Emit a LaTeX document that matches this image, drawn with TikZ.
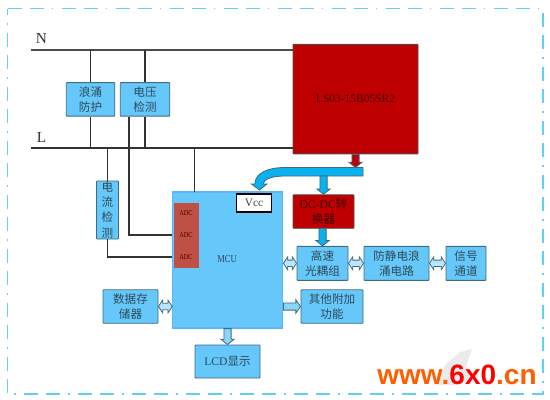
\documentclass[tikz,border=0pt]{standalone}
\usepackage{fontspec}
\setmainfont{Liberation Serif}
\newfontfamily\cjk{Noto Sans CJK SC}
\newfontfamily\wm{Liberation Sans}
\usetikzlibrary{calc}
\definecolor{boxblue}{HTML}{66C8FA}
\definecolor{paleblue}{HTML}{8AD6FA}
\definecolor{boxedge}{HTML}{3E6C80}
\definecolor{arrowblue}{HTML}{0AB0F0}
\definecolor{darkred}{HTML}{BE0000}
\definecolor{adcred}{HTML}{BE5044}
\definecolor{framec}{HTML}{62CFF6}
\definecolor{txt}{HTML}{2C4A5A}
\tikzset{
  x=0.75pt,y=-0.75pt,
  cell/.style={draw=boxedge,line width=0.7pt,fill=boxblue,rounded corners=0.5pt,inner sep=0pt,text=txt,align=center,font=\fontsize{8.7}{11.3}\selectfont\cjk},
  redcell/.style={cell,fill=darkred,draw=black!70,text=black!65!darkred},
  wire/.style={draw=black!80,line width=0.9pt},
  busline/.style={draw=black!70,line width=1.5pt},
  blockarrow/.style={draw=boxedge,line width=0.6pt,line join=miter},
  adctext/.style={font=\fontsize{5.6}{7}\selectfont,text=black!70!red,inner sep=0pt,xscale=0.85},
}
\newcommand{\cellat}[6]{\node[#1,minimum width=#4*0.75pt,minimum height=#5*0.75pt] (#2) at (#3) {#6};}
% arrow pointing down from #1 to #2
\newcommand{\arrowdn}[3]{\draw[blockarrow,fill=#3] let \p1=(#1),\p2=(#2) in
  (\x1-2.7pt,\y1) -- (\x1-2.7pt,\y2+4pt) -- (\x1-5pt,\y2+4pt) -- (\x1,\y2) -- (\x1+5pt,\y2+4pt) -- (\x1+2.7pt,\y2+4pt) -- (\x1+2.7pt,\y1) -- cycle;}
% arrow pointing right from #1 to #2
\newcommand{\arrowrt}[3]{\draw[blockarrow,fill=#3] let \p1=(#1),\p2=(#2) in
  (\x1,\y1-2.7pt) -- (\x2-3.5pt,\y1-2.7pt) -- (\x2-3.5pt,\y1-5pt) -- (\x2,\y1) -- (\x2-3.5pt,\y1+5pt) -- (\x2-3.5pt,\y1+2.7pt) -- (\x1,\y1+2.7pt) -- cycle;}
% two-headed horizontal arrow
\newcommand{\arrowtw}[2]{\draw[blockarrow,fill=paleblue!60!white] let \p1=(#1),\p2=(#2) in
  (\x1,\y1) -- (\x1+3.2pt,\y1-4.8pt) -- (\x1+3.2pt,\y1-2.4pt) -- (\x2-3.2pt,\y1-2.4pt) -- (\x2-3.2pt,\y1-4.8pt) -- (\x2,\y1)
  -- (\x2-3.2pt,\y1+4.8pt) -- (\x2-3.2pt,\y1+2.4pt) -- (\x1+3.2pt,\y1+2.4pt) -- (\x1+3.2pt,\y1+4.8pt) -- cycle;}
\begin{document}
\begin{tikzpicture}
\useasboundingbox (0,0) rectangle (550,400);
% frame
\draw[framec,line width=1.3pt,dash pattern=on 10.5pt off 6pt on 10.5pt off 6pt on 1.2pt off 6.3pt]
  (7.5,8.5) -- (543,8.5) -- (543,394) -- (7.5,394) -- cycle;
% mains
\node[font=\fontsize{11.5}{12}\selectfont,inner sep=0pt,text=black!80] (N) at (41.5,38) {N};
\node[font=\fontsize{11.5}{12}\selectfont,inner sep=0pt,text=black!80] (L) at (41.5,137) {L};
\coordinate (Nstart) at (31,50);
\coordinate (Lstart) at (31,148);
\node[redcell,minimum width=125*0.75pt,minimum height=109.5*0.75pt,font=\fontsize{8.6}{11}\selectfont] (ls) at (355.5,99.2) {LS03-15B05SR2};
\draw[busline] (Nstart) -- (ls.west |- Nstart);
\draw[wire,line width=1.1pt] (Lstart) -- (ls.west |- Lstart);
% boxes
\cellat{cell}{surge}{90.5,99.3}{48.5}{33.5}{浪涌\\防护}
\cellat{cell}{volt}{145,99.3}{49.5}{33.5}{电压\\检测}
\cellat{cell}{cur}{107.5,210}{22}{58}{电\\流\\检\\测}
\node[draw=boxblue!90!blue,line width=0.9pt,fill=boxblue,minimum width=110*0.75pt,minimum height=136*0.75pt,inner sep=0pt] (mcu) at (227.8,260) {};
\node[font=\fontsize{8}{10}\selectfont,text=txt,inner sep=0pt,xscale=0.8] (mcutext) at (227,259.5) {MCU};
\node[fill=adcred,minimum width=25.5*0.75pt,minimum height=65*0.75pt,inner sep=0pt] (adc) at (186.3,235.5) {};
\node[adctext] (a1) at (186,213) {ADC};
\node[adctext] (a2) at (186,235) {ADC};
\node[adctext] (a3) at (186,257) {ADC};
\node[draw=black,line width=0.8pt,fill=white,minimum width=35*0.75pt,minimum height=18*0.75pt,inner sep=0pt,font=\fontsize{8.5}{10}\selectfont,text=black!75] (vcc) at (254,203) {Vcc};
\cellat{redcell}{dc}{323.5,211.5}{61}{33.5}{{\rmfamily DC-DC}转\\换器}
\cellat{cell}{opto}{322.5,263.3}{51}{34}{高速\\光耦组}
\cellat{cell}{esd}{396.5,263.3}{65}{34}{防静电浪\\涌电路}
\cellat{cell}{sig}{466,263.3}{40}{34}{信号\\通道}
\cellat{cell}{other}{332,306.5}{62}{33.5}{其他附加\\功能}
\cellat{cell}{mem}{130.5,306.5}{55}{33.5}{数据存\\储器}
\cellat{cell}{lcd}{227.5,361.5}{65}{33}{{\rmfamily LCD}显示}
% wires
\draw[wire] (surge.north) -- (surge.north |- Nstart);
\draw[wire] (surge.south) -- (surge.south |- Lstart);
\draw[wire] (volt.north) -- (volt.north |- Nstart);
\draw[wire] (volt.south) -- (volt.south |- Lstart);
\draw[wire] (cur.north) -- (cur.north |- Lstart);
\draw[wire] (cur.south) |- (mcu.west |- a3);
\coordinate (vdrop) at (129,116);
\draw[wire] (volt.south -| vdrop) |- (mcu.west |- a2);
\coordinate (mcutop) at (194.5,192);
\draw[wire] (mcutop) -- (mcutop |- Lstart);
% power
\coordinate (bus323) at (323.5,176);
\coordinate (busRtop) at (355.5,167.5);
\draw[blockarrow,fill=arrowblue] (363,167.5) -- (285,167.5) .. controls (268,167.5) and (255,173) .. (255,184)
  -- (251.5,184) -- (259.5,190) -- (267,184) -- (263,184) .. controls (264,179) and (272,176) .. (285,176) -- (363,176) -- cycle;
\arrowdn{ls.south -| busRtop}{busRtop}{darkred}
\arrowdn{bus323}{dc.north}{arrowblue}
\arrowdn{dc.south -| opto.north}{opto.north}{arrowblue}
\arrowdn{mcu.south -| lcd.north}{lcd.north}{paleblue}
\arrowrt{mcu.east |- other}{other.west}{paleblue}
\arrowtw{mcu.east |- opto}{opto.west}
\arrowtw{opto.east}{esd.west}
\arrowtw{esd.east}{sig.west}
\arrowtw{mem.east}{mcu.west |- mem}
% watermark
\fill[black!8] (460,352) -- (472,349) -- (466,366) -- (473,382) -- (452,385) -- (437,385) -- (445,365) -- cycle;
\node[font=\fontsize{21}{24}\bfseries\wm,inner sep=0pt,text=orange!60!red!90!yellow,anchor=base] (mark) at (457,384) {www.\textcolor{red}{6x0}.cn};
\end{tikzpicture}
\end{document}
